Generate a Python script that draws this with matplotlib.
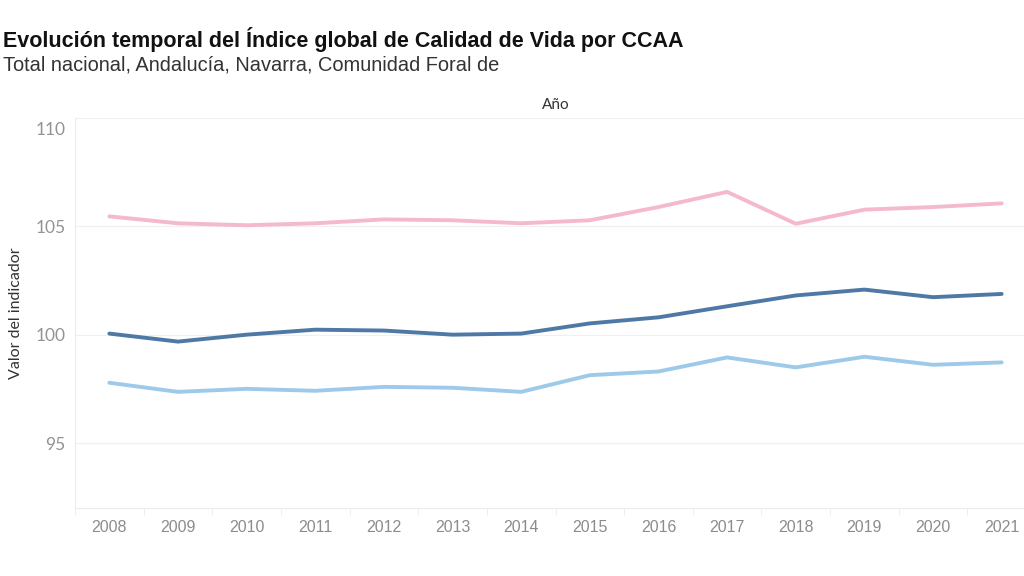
import matplotlib
matplotlib.use('Agg')
import matplotlib.pyplot as plt
import matplotlib.transforms as mtransforms
import numpy as np

# data
years = [2008, 2009, 2010, 2011, 2012, 2013, 2014, 2015, 2016, 2017, 2018, 2019, 2020, 2021]
total_nacional = [100.05, 99.68, 100.0, 100.23, 100.19, 100.0, 100.05, 100.52, 100.8, 101.31, 101.81, 102.08, 101.73, 101.88]
andalucia = [97.78, 97.36, 97.5, 97.41, 97.59, 97.55, 97.36, 98.13, 98.3, 98.95, 98.49, 98.98, 98.61, 98.72]
navarra = [105.46, 105.14, 105.05, 105.14, 105.32, 105.28, 105.14, 105.28, 105.89, 106.59, 105.12, 105.77, 105.89, 106.06]
y_ticks = [95, 100, 105, 110]

plt.rcParams['font.family'] = ['Liberation Sans', 'DejaVu Sans']

fig = plt.figure(figsize=(10.24, 5.76), dpi=100)
ax = fig.add_axes([75/1024, 1 - 508/576, 961/1024, 390/576])

ax.plot(years, navarra, color='#f5b9cc', lw=2.8, solid_capstyle='round', zorder=3)
ax.plot(years, andalucia, color='#9ecae9', lw=2.8, solid_capstyle='round', zorder=3)
ax.plot(years, total_nacional, color='#4e79a7', lw=2.8, solid_capstyle='round', zorder=4)

ax.set_xlim(2007.5, 2021.5)
ax.set_ylim(92, 110)

for v in y_ticks:
    ax.axhline(v, color='#f0f0f0', lw=0.9, zorder=1)

for s in ['top', 'right']:
    ax.spines[s].set_visible(False)
ax.spines['left'].set_color('#ececec')
ax.spines['bottom'].set_color('#ececec')

ax.set_yticks(y_ticks)
ax.set_yticklabels([str(v) for v in y_ticks], family=['Lato', 'DejaVu Sans'])
ax.tick_params(axis='y', length=0, pad=7, labelsize=12.5, labelcolor='#939393')
# the top label sits a little lower, inside the axis
top_label = ax.get_yticklabels()[-1]
top_label.set_va('top')
top_label.set_transform(top_label.get_transform() +
                        mtransforms.ScaledTranslation(0, -4/100, fig.dpi_scale_trans))

ax.set_xticks(years)
ax.set_xticklabels([str(y) for y in years])
ax.set_xticks(np.arange(2007.5, 2022, 1), minor=True)
ax.tick_params(axis='x', which='major', length=0, pad=9, labelsize=11.5, labelcolor='#8c8c8c')
ax.tick_params(axis='x', which='minor', length=5, color='#ececec')

ax.set_ylabel('Valor del indicador', fontsize=11.5, color='#333333', family=['Lato', 'DejaVu Sans'])
ax.yaxis.set_label_coords(-0.054, 0.5)
ax.text(0.5, 1 + 13/390, 'Año', transform=ax.transAxes, ha='center', va='center', fontsize=11,
        color='#333333', family=['Lato', 'DejaVu Sans'])

fig.text(3/1024, 1 - 40/576, 'Evolución temporal del Índice global de Calidad de Vida por CCAA',
         fontsize=15.5, fontweight='bold', color='#111111', va='center', ha='left')
fig.text(3/1024, 1 - 65/576, 'Total nacional, Andalucía, Navarra, Comunidad Foral de',
         fontsize=14.4, color='#333333', va='center', ha='left')

fig.savefig('out.png', dpi=100)
